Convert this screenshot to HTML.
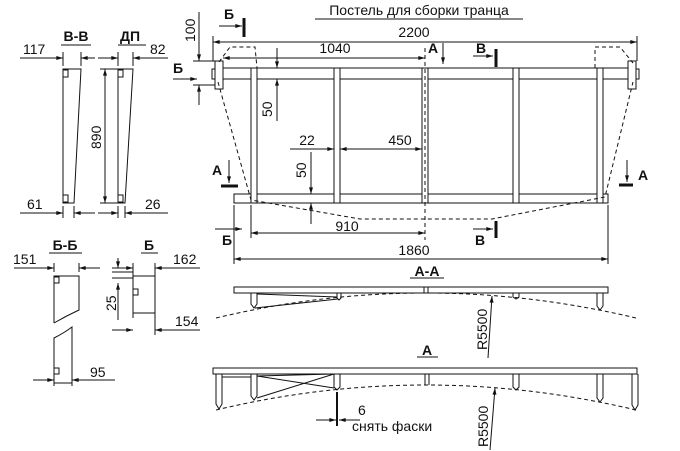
<!DOCTYPE html>
<html><head><meta charset="utf-8"><style>
html,body{margin:0;padding:0;background:#fff;}
svg{display:block;}
text{font-family:"Liberation Sans","DejaVu Sans",sans-serif;fill:#111;font-size:14px;}
.b{font-weight:bold;}
</style></head><body>
<svg width="680" height="451" viewBox="0 0 680 451" xmlns="http://www.w3.org/2000/svg">
<defs>
<marker id="a" viewBox="0 0 10 6" refX="10" refY="3" markerWidth="8" markerHeight="4" orient="auto-start-reverse"><path d="M0,0L10,3L0,6z" fill="#111"/></marker>
</defs>
<g stroke="#111" stroke-width="1" fill="none">
<line x1="315" y1="19" x2="523" y2="19"/>
<rect x="223" y="68" width="405" height="11"/>
<rect x="215" y="61" width="8" height="28"/>
<rect x="212" y="69" width="3" height="10"/>
<rect x="628" y="61" width="8" height="28"/>
<rect x="636" y="69" width="3" height="10"/>
<rect x="234" y="194" width="374" height="9"/>
<rect x="251" y="68" width="6" height="135" fill="#fff"/>
<rect x="334" y="68" width="6" height="135" fill="#fff"/>
<rect x="422" y="68" width="6" height="135" fill="#fff"/>
<rect x="513" y="68" width="6" height="135" fill="#fff"/>
<rect x="597" y="68" width="6" height="135" fill="#fff"/>
<g stroke-dasharray="4,3">
<polyline points="219,62 230,47 255,47 257,68"/>
<polyline points="218,82 251,200 360,219 492,219 605,197 633,82"/>
<polyline points="595,68 595,47 620,47 633,63"/>
<line x1="425" y1="48" x2="425" y2="240"/>
</g>
<line x1="213" y1="42" x2="637" y2="42" marker-start="url(#a)" marker-end="url(#a)"/>
<line x1="223" y1="58" x2="425" y2="58" marker-start="url(#a)" marker-end="url(#a)"/>
<line x1="290" y1="149" x2="334" y2="149" marker-end="url(#a)"/>
<line x1="340" y1="149" x2="422" y2="149" marker-start="url(#a)" marker-end="url(#a)"/>
<line x1="277" y1="48" x2="277" y2="68" marker-end="url(#a)"/>
<line x1="277" y1="79" x2="277" y2="121" marker-start="url(#a)"/>
<line x1="260" y1="68" x2="282" y2="68"/>
<line x1="311" y1="152" x2="311" y2="194" marker-end="url(#a)"/>
<line x1="311" y1="203" x2="311" y2="224" marker-start="url(#a)"/>
<line x1="251" y1="205" x2="251" y2="238"/>
<line x1="251" y1="233" x2="425" y2="233" marker-start="url(#a)" marker-end="url(#a)"/>
<line x1="234" y1="205" x2="234" y2="264"/>
<line x1="608" y1="205" x2="608" y2="264"/>
<line x1="234" y1="259" x2="608" y2="259" marker-start="url(#a)" marker-end="url(#a)"/>
<line x1="199" y1="12" x2="199" y2="61" marker-end="url(#a)"/>
<line x1="199" y1="85" x2="199" y2="105" marker-start="url(#a)"/>
<line x1="193" y1="61" x2="215" y2="61"/><line x1="193" y1="85" x2="215" y2="85"/>
<line x1="213" y1="36" x2="213" y2="61"/><line x1="637" y1="36" x2="637" y2="61"/>
<line x1="219" y1="26" x2="242" y2="26" marker-end="url(#a)"/>
<line x1="244" y1="18" x2="244" y2="37" stroke-width="3"/>
<line x1="173" y1="79" x2="197" y2="79" marker-end="url(#a)"/>
<line x1="473" y1="56" x2="493" y2="56" marker-end="url(#a)"/>
<line x1="496" y1="49" x2="496" y2="67" stroke-width="3"/>
<line x1="443" y1="43" x2="443" y2="64" marker-end="url(#a)"/>
<line x1="229" y1="160" x2="229" y2="183" marker-end="url(#a)"/>
<line x1="221" y1="186" x2="238" y2="186" stroke-width="3"/>
<line x1="627" y1="160" x2="627" y2="182" marker-end="url(#a)"/>
<line x1="619" y1="185" x2="633" y2="185" stroke-width="3"/>
<line x1="215" y1="229" x2="242" y2="229" marker-end="url(#a)"/>
<line x1="473" y1="229" x2="493" y2="229" marker-end="url(#a)"/>
<line x1="496" y1="221" x2="496" y2="238" stroke-width="3"/>

<line x1="410" y1="278" x2="444" y2="278"/>
<rect x="234" y="287" width="374" height="6"/>
<path d="M251,293V304L254,308L257,304V293"/>
<path d="M337,293V298L339,300L341,298V293"/>
<path d="M424,287V293M428,287V293"/>
<path d="M513,293V297L516,299L519,297V293"/>
<path d="M597,293V306L600,310L603,306V293"/>
<path d="M257,294L337,297M255,308L338,299"/>
<path d="M216,318Q425,268 636,318" stroke-dasharray="4,3"/>
<line x1="488" y1="358" x2="492" y2="296" marker-end="url(#a)"/>

<line x1="417" y1="357" x2="438" y2="357"/>
<rect x="213" y="368" width="424" height="6"/>
<path d="M216,374V404L219,409L222,404V374"/>
<path d="M222,374V377H251"/>
<path d="M251,374V396L254,400L257,396V374"/>
<path d="M334,374V387L337,390L340,387V374"/>
<path d="M425,374V385M429,374V385"/>
<path d="M513,374V387L516,390L519,387V374"/>
<path d="M597,374V398L600,402L603,398V374"/>
<path d="M632,374V405L635,410L638,405V374"/>
<path d="M257,376L334,388M257,398L334,374M257,376L334,374"/>
<path d="M216,410Q425,360 636,410" stroke-dasharray="4,3"/>
<line x1="337" y1="392" x2="337" y2="426" stroke-width="2"/>
<line x1="316" y1="420" x2="336" y2="420" marker-end="url(#a)"/>
<line x1="360" y1="420" x2="339" y2="420" marker-end="url(#a)"/>
<line x1="490" y1="450" x2="495" y2="388" marker-end="url(#a)"/>

<line x1="61" y1="45" x2="91" y2="45"/><line x1="118" y1="45" x2="146" y2="45"/>
<polygon points="63,69 81,69 74,203 63,203"/>
<polygon points="118,69 133,69 125,203 118,203"/>
<rect x="63" y="70" width="5" height="7"/><rect x="63" y="195" width="5" height="7"/>
<rect x="118" y="70" width="5" height="7"/><rect x="118" y="195" width="5" height="7"/>
<line x1="20" y1="58" x2="63" y2="58" marker-end="url(#a)"/>
<line x1="95" y1="58" x2="81" y2="58" marker-end="url(#a)"/>
<line x1="63" y1="52" x2="63" y2="66"/><line x1="81" y1="52" x2="81" y2="66"/>
<line x1="98" y1="58" x2="118" y2="58" marker-end="url(#a)"/>
<line x1="168" y1="58" x2="133" y2="58" marker-end="url(#a)"/>
<line x1="118" y1="52" x2="118" y2="66"/><line x1="133" y1="52" x2="133" y2="66"/>
<line x1="105" y1="69" x2="105" y2="203" marker-start="url(#a)" marker-end="url(#a)"/>
<line x1="100" y1="69" x2="118" y2="69"/><line x1="100" y1="203" x2="118" y2="203"/>
<line x1="20" y1="213" x2="63" y2="213" marker-end="url(#a)"/>
<line x1="95" y1="213" x2="74" y2="213" marker-end="url(#a)"/>
<line x1="63" y1="206" x2="63" y2="218"/><line x1="74" y1="206" x2="74" y2="218"/>
<line x1="98" y1="213" x2="118" y2="213" marker-end="url(#a)"/>
<line x1="168" y1="213" x2="125" y2="213" marker-end="url(#a)"/>
<line x1="118" y1="206" x2="118" y2="218"/><line x1="125" y1="206" x2="125" y2="218"/>

<line x1="49" y1="253" x2="82" y2="253"/>
<path d="M54,323V276H79V310Q66,316 54,323"/>
<path d="M54,338Q64,333 72,327V383H54Z"/>
<rect x="54" y="277" width="5" height="6"/><rect x="54" y="368" width="5" height="6"/>
<line x1="14" y1="268" x2="54" y2="268" marker-end="url(#a)"/>
<line x1="100" y1="268" x2="79" y2="268" marker-end="url(#a)"/>
<line x1="54" y1="263" x2="54" y2="272"/><line x1="79" y1="263" x2="79" y2="272"/>
<line x1="33" y1="380" x2="54" y2="380" marker-end="url(#a)"/>
<line x1="115" y1="380" x2="72" y2="380" marker-end="url(#a)"/>
<line x1="54" y1="376" x2="54" y2="386"/><line x1="72" y1="376" x2="72" y2="386"/>

<line x1="141" y1="253" x2="158" y2="253"/>
<rect x="133" y="276" width="22" height="37"/>
<rect x="133" y="289" width="5" height="6"/>
<line x1="112" y1="268" x2="133" y2="268" marker-end="url(#a)"/>
<line x1="200" y1="268" x2="155" y2="268" marker-end="url(#a)"/>
<line x1="133" y1="263" x2="133" y2="318"/><line x1="155" y1="263" x2="155" y2="335"/>
<line x1="118" y1="258" x2="118" y2="268" marker-end="url(#a)"/>
<line x1="118" y1="320" x2="118" y2="283" marker-end="url(#a)"/>
<line x1="112" y1="272" x2="133" y2="272"/><line x1="112" y1="278" x2="133" y2="278"/>
<line x1="112" y1="330" x2="133" y2="330" marker-end="url(#a)"/>
<line x1="200" y1="330" x2="155" y2="330" marker-end="url(#a)"/>
</g>

<g>
<text x="419" y="15" text-anchor="middle">Постель для сборки транца</text>
<text x="414" y="37" text-anchor="middle">2200</text>
<text x="335" y="53" text-anchor="middle">1040</text>
<text x="307" y="145" text-anchor="middle">22</text>
<text x="400" y="145" text-anchor="middle">450</text>
<text x="347" y="231" text-anchor="middle">910</text>
<text x="414" y="255" text-anchor="middle">1860</text>
<text transform="translate(272,117) rotate(-90)">50</text>
<text transform="translate(306,178) rotate(-90)">50</text>
<text transform="translate(195,42) rotate(-90)">100</text>
<text class="b" x="224" y="19">Б</text>
<text class="b" x="173" y="73">Б</text>
<text class="b" x="476" y="53">В</text>
<text class="b" x="428" y="53">А</text>
<text class="b" x="212" y="175">А</text>
<text class="b" x="638" y="180">А</text>
<text class="b" x="222" y="245">Б</text>
<text class="b" x="475" y="245">В</text>
<text class="b" x="427" y="276" text-anchor="middle">А-А</text>
<text class="b" x="427" y="355" text-anchor="middle">А</text>
<text transform="translate(487,350) rotate(-90)">R5500</text>
<text transform="translate(488,447) rotate(-90)">R5500</text>
<text x="358" y="415">6</text>
<text x="352" y="431">снять фаски</text>
<text class="b" x="76" y="41" text-anchor="middle">В-В</text>
<text class="b" x="130" y="41" text-anchor="middle">ДП</text>
<text x="23" y="54">117</text>
<text x="150" y="54">82</text>
<text transform="translate(101,149) rotate(-90)">890</text>
<text x="27" y="209">61</text>
<text x="145" y="209">26</text>
<text class="b" x="65" y="250" text-anchor="middle">Б-Б</text>
<text class="b" x="149" y="250" text-anchor="middle">Б</text>
<text x="13" y="264">151</text>
<text x="173" y="264">162</text>
<text transform="translate(116,311) rotate(-90)">25</text>
<text x="175" y="326">154</text>
<text x="90" y="377">95</text>
</g>
</svg>
</body></html>
